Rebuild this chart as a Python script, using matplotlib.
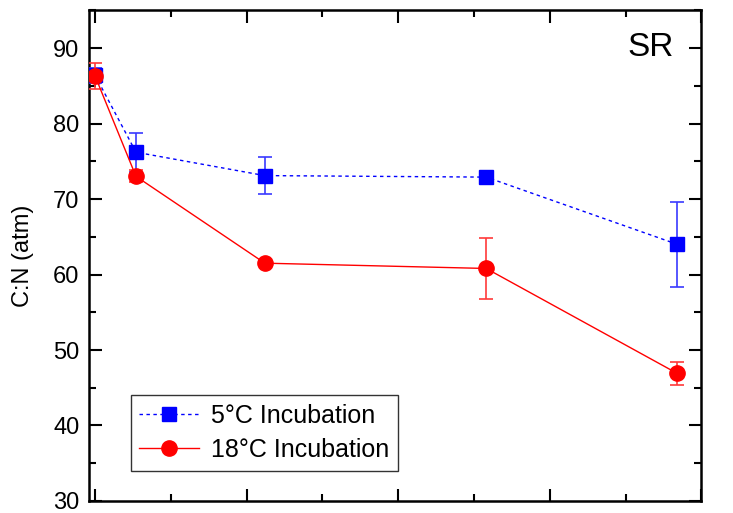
import matplotlib
matplotlib.use('Agg')
import matplotlib.pyplot as plt
from matplotlib.lines import Line2D
from matplotlib.ticker import MultipleLocator, NullFormatter

plt.rcParams['font.family'] = ['Liberation Sans', 'DejaVu Sans']

# Incubation time (days) and C:N ratios
days = [0, 13.5, 56, 129, 192]
cn_5c = [86.4, 76.2, 73.1, 72.9, 64.0]
err_5c = [1.0, 2.6, 2.5, 0.5, 5.6]
cn_18c = [86.3, 73.0, 61.5, 60.8, 46.9]
err_18c = [1.7, 0.8, 0.4, 4.1, 1.5]

fig = plt.figure(figsize=(7.33, 5.13), dpi=100)
ax = fig.add_axes([0.1218, 0.0234, 0.957 - 0.1218, 0.98 - 0.0234])

ax.errorbar(days, cn_5c, yerr=err_5c, fmt='s', linestyle=(0, (2.5, 2.5)), color='#0000ff',
            ecolor='#3a3aff', markersize=10, linewidth=1, elinewidth=1.2, capsize=5,
            capthick=1.2, zorder=3)
ax.errorbar(days, cn_18c, yerr=err_18c, fmt='o', linestyle='-', color='#ff0000',
            ecolor='#ff3a3a', markersize=11, linewidth=1, elinewidth=1.2, capsize=5,
            capthick=1.2, zorder=4)

ax.set_xlim(-1.9, 200)
ax.set_ylim(30, 95)
ax.xaxis.set_major_locator(MultipleLocator(50))
ax.xaxis.set_minor_locator(MultipleLocator(25))
ax.xaxis.set_major_formatter(NullFormatter())
ax.yaxis.set_major_locator(MultipleLocator(10))
ax.yaxis.set_minor_locator(MultipleLocator(5))

ax.tick_params(which='both', direction='in', top=True, right=True, width=1.5)
ax.tick_params(which='major', length=9, labelsize=17)
ax.tick_params(which='minor', length=5)
ax.tick_params(axis='y', pad=7)
for sp in ax.spines.values():
    sp.set_linewidth(1.8)

ax.set_ylabel('C:N (atm)', fontsize=17, labelpad=14)
ax.text(0.955, 0.955, 'SR', transform=ax.transAxes, fontsize=24, ha='right', va='top')

handles = [
    Line2D([], [], color='#0000ff', linestyle=(0, (2.5, 2.5)), linewidth=1, marker='s', markersize=10),
    Line2D([], [], color='#ff0000', linestyle='-', linewidth=1, marker='o', markersize=11),
]
labels = ['5\u00b0C Incubation', '18\u00b0C Incubation']
leg = ax.legend(handles, labels, loc='lower left', bbox_to_anchor=(0.0677, 0.0617), fontsize=18,
                frameon=True, fancybox=False, edgecolor='black', handlelength=2.4,
                labelspacing=0.4, borderpad=0.35, handletextpad=0.45, borderaxespad=0)
leg.get_frame().set_linewidth(1.0)

fig.savefig('out.png', dpi=100)
